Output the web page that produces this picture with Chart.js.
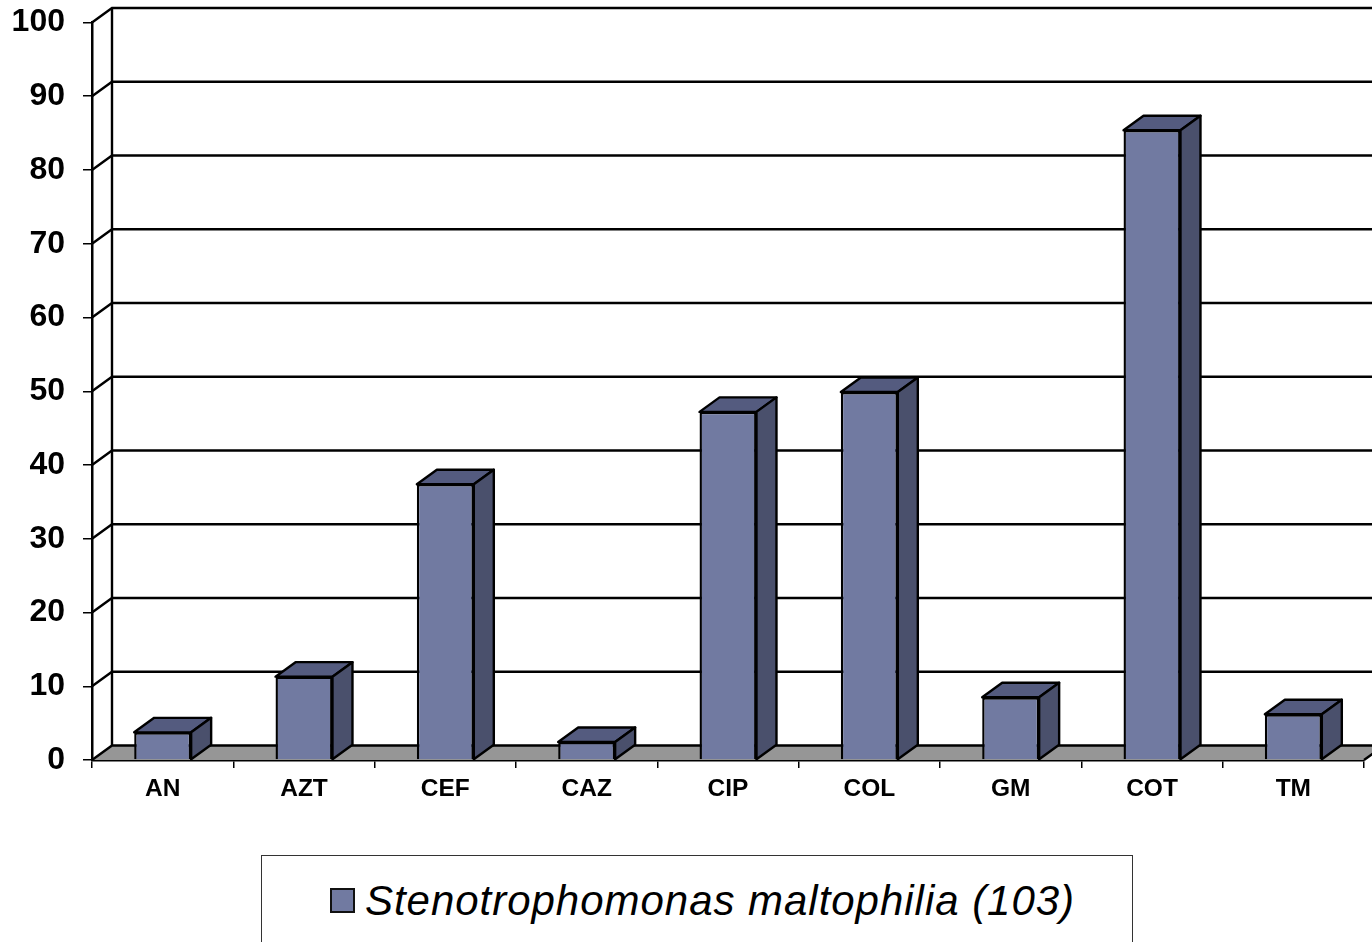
<!DOCTYPE html>
<html>
<head>
<meta charset="utf-8">
<script src="https://cdn.jsdelivr.net/npm/chart.js@4/dist/chart.umd.min.js"></script>
<style>
html,body{margin:0;padding:0;background:#fff;overflow:hidden;width:1372px;height:942px}
#wrap{position:relative;width:1372px;height:942px;overflow:hidden}
canvas{display:block}
#legend{position:absolute;left:261px;top:855px;width:872px;height:120px;border:1px solid #333;background:#fff;box-sizing:border-box;}
#swatch{position:absolute;left:68px;top:32px;width:25px;height:25px;background:#717AA1;border:2.5px solid #111;box-sizing:border-box}
#ltext{position:absolute;left:103px;top:21px;font:italic 42px "Liberation Sans",Arial,sans-serif;letter-spacing:0.97px;color:#000;white-space:nowrap;line-height:48px}
</style>
</head>
<body>
<div id="wrap">
<canvas id="c" width="1372" height="942"></canvas>
<div id="legend"><span id="swatch"></span><span id="ltext"></span></div>
</div>
<script>
const categories = ["AN","AZT","CEF","CAZ","CIP","COL","GM","COT","TM"];
const resistance = [3.75,11.3,37.4,2.45,47.2,49.9,8.5,85.4,6.2];
const seriesName = "Stenotrophomonas maltophilia (103)";
const yTicks = [0,10,20,30,40,50,60,70,80,90,100];

const DX = 20, DY = -14.5;
const FRONT = "#717AA1", TOP = "#545B7F", SIDE = "#4A506C", FLOOR = "#969696", INK = "#000";

document.getElementById("ltext").textContent = seriesName;

const depth3d = {
  id: "depth3d",
  beforeDatasetsDraw(chart) {
    const {ctx, chartArea: a, scales: {y}} = chart;
    const zero = y.getPixelForValue(0);
    ctx.save();
    ctx.beginPath();
    ctx.moveTo(a.left, zero);
    ctx.lineTo(a.left + DX, zero + DY);
    ctx.lineTo(a.right + DX, zero + DY);
    ctx.lineTo(a.right, zero);
    ctx.closePath();
    ctx.fillStyle = FLOOR;
    ctx.fill();
    ctx.strokeStyle = INK;
    ctx.lineWidth = 2.4;
    yTicks.forEach(v => {
      const p = y.getPixelForValue(v);
      ctx.beginPath();
      ctx.moveTo(a.left, p);
      ctx.lineTo(a.left + DX, p + DY);
      ctx.lineTo(a.right + DX, p + DY);
      ctx.stroke();
    });
    ctx.beginPath();
    ctx.moveTo(a.left + DX, y.getPixelForValue(0) + DY);
    ctx.lineTo(a.left + DX, y.getPixelForValue(100) + DY);
    ctx.stroke();
    ctx.beginPath();
    ctx.moveTo(a.right, zero);
    ctx.lineTo(a.right + DX, zero + DY);
    ctx.stroke();
    ctx.restore();
  },
  afterDatasetsDraw(chart) {
    const {ctx} = chart;
    ctx.save();
    ctx.strokeStyle = INK;
    ctx.lineWidth = 2.4;
    ctx.lineJoin = "round";
    chart.getDatasetMeta(0).data.forEach(bar => {
      const l = bar.x - bar.width / 2, r = bar.x + bar.width / 2, t = bar.y, b = bar.base;
      ctx.beginPath();
      ctx.moveTo(l, t); ctx.lineTo(l + DX, t + DY); ctx.lineTo(r + DX, t + DY); ctx.lineTo(r, t);
      ctx.closePath();
      ctx.fillStyle = TOP; ctx.fill(); ctx.stroke();
      ctx.beginPath();
      ctx.moveTo(r, t); ctx.lineTo(r + DX, t + DY); ctx.lineTo(r + DX, b + DY); ctx.lineTo(r, b);
      ctx.closePath();
      ctx.fillStyle = SIDE; ctx.fill(); ctx.stroke();
    });
    ctx.restore();
  }
};

new Chart(document.getElementById("c"), {
  type: "bar",
  data: {
    labels: categories,
    datasets: [{
      label: seriesName,
      data: resistance,
      backgroundColor: FRONT,
      borderColor: INK,
      borderWidth: 2.4,
      barPercentage: 0.403,
      categoryPercentage: 1
    }]
  },
  plugins: [depth3d],
  options: {
    responsive: false,
    animation: false,
    devicePixelRatio: 1,
    layout: {padding: {top: 22.5, right: 8, left: 0, bottom: 0}},
    plugins: {legend: {display: false}, tooltip: {enabled: false}, title: {display: false}},
    scales: {
      x: {
        afterFit(s) { s.height = 182; },
        grid: {drawOnChartArea: false, drawTicks: true, tickLength: 8, color: INK, lineWidth: 1.5, offset: true},
        border: {display: true, color: INK, width: 2.5},
        ticks: {color: "#000", font: {family: "'Liberation Sans',Arial,sans-serif", size: 24.5, weight: "bold"}, padding: 7, maxRotation: 0, autoSkip: false}
      },
      y: {
        min: 0, max: 100,
        afterFit(s) { s.width = 92; s.paddingTop = 0; s.paddingBottom = 0; },
        afterBuildTicks(s) { s.ticks = yTicks.map(v => ({value: v})); },
        grid: {drawOnChartArea: false, drawTicks: true, tickLength: 9, color: INK, lineWidth: 1.5},
        border: {display: true, color: INK, width: 2.5},
        ticks: {color: "#000", font: {family: "'Liberation Sans',Arial,sans-serif", size: 32, weight: "bold"}, padding: 18}
      }
    }
  }
});
</script>
</body>
</html>
